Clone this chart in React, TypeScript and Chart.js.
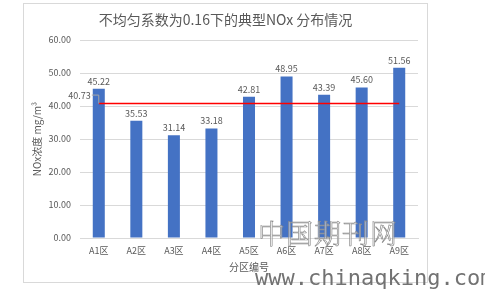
import React, { useEffect, useRef } from "react";
import { Chart, registerables } from "chart.js";

Chart.register(...registerables);

const categories = ["A1区", "A2区", "A3区", "A4区", "A5区", "A6区", "A7区", "A8区", "A9区"];
const concentrations = [45.22, 35.53, 31.14, 33.18, 42.81, 48.95, 43.39, 45.6, 51.56];
const averageValue = 40.73;
const averageLine = categories.map(() => averageValue);
const yTicks = [0, 10, 20, 30, 40, 50, 60];
const titleText = "不均匀系数为0.16下的典型NOx 分布情况";
const yTitle = "NOx浓度 mg/m³";
const xTitle = "分区编号";

const FONT = "'Microsoft YaHei', 'Noto Sans CJK SC', 'Noto Sans', sans-serif";

const labelsPlugin = {
  id: "customLabels",
  afterDatasetsDraw(chart: any) {
    const ctx = chart.ctx;
    ctx.save();
    // title
    ctx.fillStyle = "#595959";
    ctx.font = `14px ${FONT}`;
    ctx.textAlign = "center";
    ctx.textBaseline = "middle";
    ctx.fillText(titleText, chart.width / 2, 17);

    // bar value labels
    const barMeta = chart.getDatasetMeta(0);
    ctx.font = `9px ${FONT}`;
    ctx.fillStyle = "#595959";
    ctx.textBaseline = "bottom";
    barMeta.data.forEach((bar: any, i: number) => {
      ctx.fillText(concentrations[i].toFixed(2), bar.x, bar.y - 3);
    });

    // average label with leader line
    const lineMeta = chart.getDatasetMeta(1);
    const p0 = lineMeta.data[0];
    if (p0) {
      ctx.textAlign = "right";
      ctx.textBaseline = "middle";
      ctx.fillStyle = "#595959";
      const lx = p0.x - 8;
      const ly = p0.y - 8;
      ctx.fillText(averageValue.toFixed(2), lx, ly);
      ctx.strokeStyle = "#a6a6a6";
      ctx.lineWidth = 1;
      ctx.beginPath();
      ctx.moveTo(lx + 1, ly - 0.5);
      ctx.lineTo(p0.x, ly - 0.5);
      ctx.lineTo(p0.x, p0.y);
      ctx.stroke();
    }
    ctx.restore();
  },
};

export default function App() {
  const ref = useRef<HTMLCanvasElement>(null);
  useEffect(() => {
    if (!ref.current) return;
    const chart = new Chart(ref.current, {
      type: "bar",
      data: {
        labels: categories,
        datasets: [
          {
            type: "bar",
            data: concentrations,
            backgroundColor: "#4472C4",
            categoryPercentage: 1,
            barPercentage: 0.32,
            order: 2,
          },
          {
            type: "line",
            data: averageLine,
            borderColor: "#FF0000",
            borderWidth: 1.5,
            pointRadius: 0,
            fill: false,
            order: 1,
          } as any,
        ],
      },
      options: {
        animation: false,
        responsive: false,
        maintainAspectRatio: false,
        layout: { padding: { top: 37, right: 10, bottom: 10, left: 0 } },
        plugins: {
          legend: { display: false },
          title: { display: false },
          tooltip: { enabled: false },
        },
        scales: {
          x: {
            grid: { display: false, drawTicks: false },
            border: { color: "#d9d9d9" },
            ticks: {
              color: "#595959",
              font: { size: 9, family: FONT },
              padding: 7,
              maxRotation: 0,
            },
            title: {
              display: true,
              text: xTitle,
              color: "#595959",
              font: { size: 10, family: FONT },
              padding: { top: 1, bottom: 0 },
            },
            afterFit(scale: any) {
              scale.height = 35;
            },
          },
          y: {
            min: 0,
            max: 60,
            afterBuildTicks(scale: any) {
              scale.ticks = yTicks.map((v) => ({ value: v }));
            },
            grid: { color: "#d9d9d9", drawTicks: false },
            border: { display: false },
            ticks: {
              color: "#595959",
              font: { size: 9, family: FONT },
              padding: 9,
              callback: (v: any) => Number(v).toFixed(2),
            },
            title: {
              display: true,
              text: yTitle,
              color: "#595959",
              font: { size: 10, family: FONT },
              padding: { top: 8, bottom: 4 },
            },
            afterFit(scale: any) {
              scale.width = 57;
            },
          },
        },
      },
      plugins: [labelsPlugin],
    });
    return () => chart.destroy();
  }, []);

  return (
    <div style={{ position: "fixed", left: 0, top: 0, width: 485, height: 292, background: "#fff", overflow: "hidden" }}>
      <div
        style={{
          position: "absolute",
          left: 23,
          top: 3,
          width: 405,
          height: 280,
          border: "1px solid #d9d9d9",
          boxSizing: "border-box",
        }}
      />
      <canvas ref={ref} width={405} height={280} style={{ position: "absolute", left: 23, top: 3, width: 405, height: 280 }} />
      <div
        style={{
          position: "absolute",
          left: 258,
          top: 219,
          fontSize: 27,
          fontFamily: "'Noto Serif CJK SC', 'Noto Sans CJK SC', serif",
          fontWeight: 300,
          color: "rgba(255,255,255,0.5)",
          WebkitTextStroke: "0.7px #8c8c8c",
          letterSpacing: 1,
          lineHeight: 1,
        }}
      >
        中国期刊网
      </div>
      <div
        style={{
          position: "absolute",
          left: 255,
          top: 267,
          fontSize: 22,
          fontFamily: "'DejaVu Sans Mono', 'Liberation Mono', monospace",
          color: "#727272",
          lineHeight: 1,
          whiteSpace: "nowrap",
        }}
      >
        www.chinaqking.com
      </div>
    </div>
  );
}
